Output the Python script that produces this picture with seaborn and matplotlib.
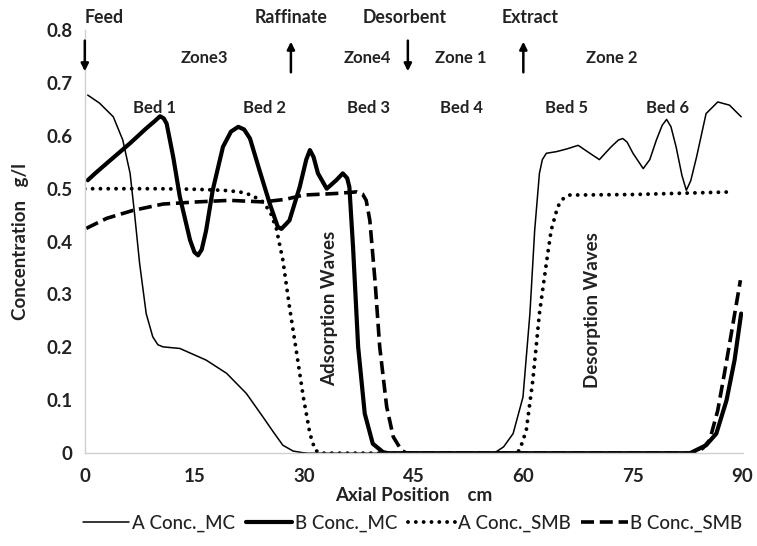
import matplotlib
matplotlib.use("Agg")
import matplotlib.pyplot as plt
import seaborn as sns
import pandas as pd

# ---- data ----
a_mc_x = [0.4, 2.0, 3.9, 5.2, 6.2, 6.8, 7.5, 8.4, 9.3, 10.0, 10.7, 13.0, 16.6, 19.4, 22.1, 24.4, 25.8,
          27.1, 28.5, 29.8, 30.5, 56.0, 57.3, 58.6, 59.95, 60.9, 61.55, 62.2, 62.6, 63.15, 64.5, 65.9,
          67.5, 69.1, 70.4, 72.0, 73.0, 73.6, 74.2, 75.0, 76.4, 77.3, 78.2, 79.0, 79.6, 80.2, 80.9,
          81.7, 82.3, 82.9, 83.7, 85.0, 86.6, 88.2, 89.8]
a_mc_y = [0.677, 0.662, 0.636, 0.592, 0.529, 0.454, 0.359, 0.264, 0.220, 0.205, 0.201, 0.198, 0.176,
          0.151, 0.113, 0.068, 0.040, 0.015, 0.004, 0.001, 0.0, 0.0, 0.012, 0.037, 0.106, 0.264, 0.421,
          0.529, 0.555, 0.567, 0.570, 0.575, 0.582, 0.567, 0.555, 0.579, 0.592, 0.595, 0.588, 0.567,
          0.538, 0.555, 0.592, 0.620, 0.631, 0.617, 0.579, 0.525, 0.497, 0.515, 0.560, 0.642, 0.664,
          0.658, 0.636]

b_mc_x = [0.4, 1.5, 3.0, 4.6, 6.2, 8.4, 9.5, 10.3, 10.8, 11.2, 12.1, 13.0, 14.4, 15.0, 15.5, 16.0,
          16.6, 17.5, 18.9, 20.0, 21.0, 21.8, 22.6, 23.9, 25.3, 26.4, 26.9, 28.0, 29.4, 30.3, 30.8,
          31.3, 31.9, 33.1, 34.4, 35.3, 35.9, 36.2, 36.7, 37.4, 38.3, 39.4, 40.8, 41.5, 82.8, 85.0,
          86.4, 87.8, 88.9, 89.8]
b_mc_y = [0.516, 0.530, 0.548, 0.567, 0.586, 0.614, 0.627, 0.637, 0.633, 0.623, 0.560, 0.485, 0.403,
          0.380, 0.374, 0.385, 0.421, 0.497, 0.579, 0.608, 0.617, 0.612, 0.595, 0.535, 0.472, 0.428,
          0.424, 0.440, 0.503, 0.555, 0.573, 0.560, 0.529, 0.500, 0.516, 0.529, 0.520, 0.503, 0.390,
          0.201, 0.075, 0.018, 0.002, 0.0, 0.0, 0.015, 0.037, 0.100, 0.176, 0.264]

a_smb_x = [0.0, 5.0, 10.0, 15.0, 19.0, 21.2, 22.8, 24.4, 25.4, 26.2, 27.1, 28.0, 29.0, 29.9, 30.8,
           31.5, 32.2, 59.0, 59.5, 60.4, 61.3, 62.2, 63.15, 63.8, 64.7, 65.5, 66.3, 75.0, 88.7]
a_smb_y = [0.500, 0.500, 0.500, 0.499, 0.497, 0.494, 0.488, 0.475, 0.455, 0.425, 0.365, 0.277, 0.188,
           0.106, 0.037, 0.006, 0.0, 0.0, 0.006, 0.043, 0.138, 0.264, 0.359, 0.421, 0.466, 0.482,
           0.488, 0.489, 0.494]

b_smb_x = [0.2, 3.0, 6.6, 10.7, 15.3, 19.8, 24.4, 27.5, 29.9, 34.4, 37.2, 38.0, 38.5, 39.0, 39.7,
           40.35, 41.3, 42.2, 43.3, 44.0, 83.7, 84.6, 85.5, 86.6, 87.5, 88.45, 89.7]
b_smb_y = [0.425, 0.444, 0.459, 0.471, 0.475, 0.478, 0.475, 0.480, 0.488, 0.491, 0.494, 0.490, 0.478,
           0.440, 0.327, 0.201, 0.088, 0.031, 0.006, 0.0, 0.0, 0.010, 0.025, 0.081, 0.150, 0.226, 0.327]

series_names = ["A Conc._MC", "B Conc._MC", "A Conc._SMB", "B Conc._SMB"]

x_ticks = [0, 15, 30, 45, 60, 75, 90]
y_ticks = [0, 0.1, 0.2, 0.3, 0.4, 0.5, 0.6, 0.7, 0.8]
y_tick_labels = ["0", "0.1", "0.2", "0.3", "0.4", "0.5", "0.6", "0.7", "0.8"]

ports = ["Feed", "Raffinate", "Desorbent", "Extract"]
port_x = [0.0, 28.2, 44.2, 60.0]
port_label_x = [0.0, 28.2, 43.8, 60.9]
port_dir = ["down", "up", "down", "up"]
zones = ["Zone3", "Zone4", "Zone 1", "Zone 2"]
zone_x = [16.4, 38.7, 51.4, 72.1]
beds = ["Bed 1", "Bed 2", "Bed 3", "Bed 4", "Bed 5", "Bed 6"]
bed_x = [9.6, 24.6, 38.8, 51.6, 65.9, 79.7]

# ---- plot ----
sns.set_theme(style="white")
plt.rcParams["font.family"] = ["Lato", "DejaVu Sans"]

TXT = "#222222"
fig = plt.figure(figsize=(7.57, 5.46), dpi=100)
ax = fig.add_axes([0.112, 0.170, 0.869, 0.775])

styles = [
    dict(lw=1.1, ls="-"),
    dict(lw=3.0, ls="-"),
    dict(lw=2.8, ls=(0, (0.01, 2.0)), dash_capstyle="round"),
    dict(lw=2.6, ls=(0, (3.6, 1.6))),
]
xs = [a_mc_x, b_mc_x, a_smb_x, b_smb_x]
ys = [a_mc_y, b_mc_y, a_smb_y, b_smb_y]
for name, x, y, st in zip(series_names, xs, ys, styles):
    df = pd.DataFrame({"x": x, "y": y})
    sns.lineplot(data=df, x="x", y="y", ax=ax, color="black", label=name,
                 estimator=None, sort=False, linewidth=st["lw"], linestyle=st["ls"],
                 **({"dash_capstyle": st["dash_capstyle"]} if "dash_capstyle" in st else {}))

ax.set_xlim(0, 90)
ax.set_ylim(0, 0.8)
ax.set_xticks(x_ticks)
ax.set_yticks(y_ticks)
ax.set_yticklabels(y_tick_labels)
ax.tick_params(axis="both", length=0, labelsize=13.5, pad=9)
for lab in ax.get_xticklabels() + ax.get_yticklabels():
    lab.set_fontweight("bold")
    lab.set_color(TXT)
ax.tick_params(axis="x", pad=11)

for s in ["top", "right"]:
    ax.spines[s].set_visible(False)
for s in ["left", "bottom"]:
    ax.spines[s].set_color("#d0d0d0")
    ax.spines[s].set_linewidth(1.0)

ax.set_xlabel("Axial Position    cm", fontsize=13.5, fontweight="bold", labelpad=1, color=TXT)
ax.set_ylabel("Concentration   g/l", fontsize=13.5, fontweight="bold", labelpad=12, color=TXT)

# port labels and arrows
for name, xl, xa, d in zip(ports, port_label_x, port_x, port_dir):
    ha = "left" if name == "Feed" else "center"
    ax.text(xl, 0.824, name, ha=ha, va="center", fontsize=12.8, fontweight="bold",
            color=TXT, clip_on=False)
    if d == "down":
        ax.annotate("", xy=(xa, 0.722), xytext=(xa, 0.780), annotation_clip=False,
                    arrowprops=dict(arrowstyle="-|>", color="black", lw=1.8, mutation_scale=11,
                                    shrinkA=0, shrinkB=0))
    else:
        ax.annotate("", xy=(xa, 0.778), xytext=(xa, 0.720), annotation_clip=False,
                    arrowprops=dict(arrowstyle="-|>", color="black", lw=1.8, mutation_scale=11,
                                    shrinkA=0, shrinkB=0))

for name, xz in zip(zones, zone_x):
    ax.text(xz, 0.747, name, ha="center", va="center", fontsize=12, fontweight="bold", color=TXT)
for name, xb in zip(beds, bed_x):
    ax.text(xb, 0.653, name, ha="center", va="center", fontsize=12, fontweight="bold", color=TXT)

ax.text(33.5, 0.274, "Adsorption Waves", rotation=90, ha="center", va="center",
        fontsize=13.5, fontweight="bold", color=TXT)
ax.text(69.5, 0.270, "Desorption Waves", rotation=90, ha="center", va="center",
        fontsize=13.5, fontweight="bold", color=TXT)

ax.get_legend().remove()
handles, labels = ax.get_legend_handles_labels()
fig.legend(handles, labels, loc="lower center", bbox_to_anchor=(0.545, -0.005), ncol=4, frameon=False,
           prop={"size": 13.5, "weight": "medium"}, handlelength=2.5, columnspacing=0.55,
           handletextpad=0.15, labelcolor=TXT)

fig.savefig("out.png", dpi=100)
